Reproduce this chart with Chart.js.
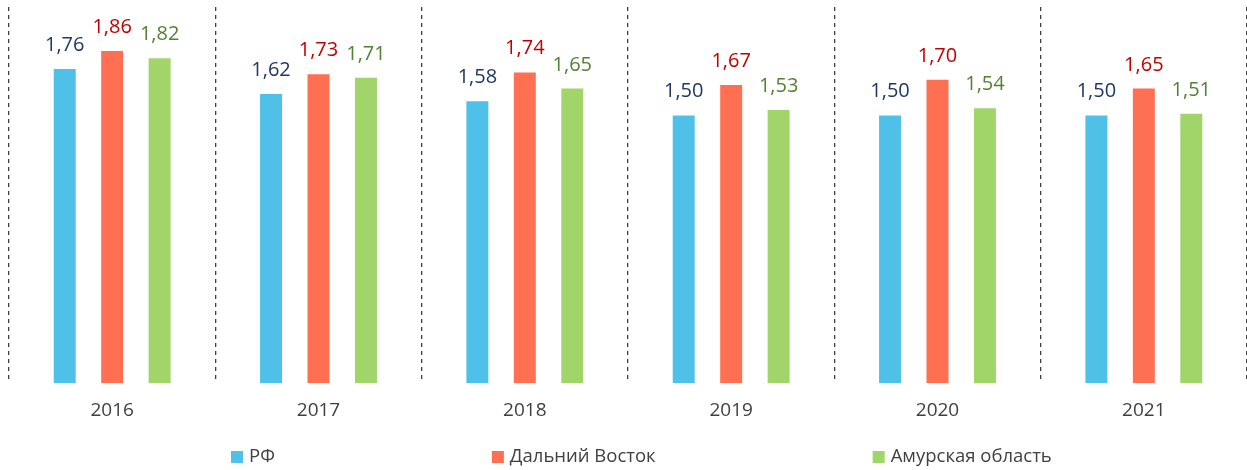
<!DOCTYPE html>
<html>
<head>
<meta charset="utf-8">
<script src="https://cdn.jsdelivr.net/npm/chart.js@4.4.0/dist/chart.umd.min.js"></script>
<style>
  html,body{margin:0;padding:0;background:#fff;}
  #wrap{width:1247px;height:470px;position:relative;}
</style>
</head>
<body>
<div id="wrap"><canvas id="chart"></canvas></div>
<script>
const years=['2016','2017','2018','2019','2020','2021'];
const rf=[1.76,1.62,1.58,1.50,1.50,1.50];
const dv=[1.86,1.73,1.74,1.67,1.70,1.65];
const amur=[1.82,1.71,1.65,1.53,1.54,1.51];
const names=['РФ','Дальний Восток','Амурская область'];
const barColors=['#4FC1E8','#FF7052','#A1D469'];
const labelColors=['#1F3864','#C00000','#538135'];

const FONT='"Open Sans", sans-serif';

const valueLabels={
  id:'valueLabels',
  afterDatasetsDraw(chart){
    const ctx=chart.ctx;
    ctx.save();
    ctx.font='20px '+FONT;
    ctx.textAlign='center';
    ctx.textBaseline='alphabetic';
    chart.data.datasets.forEach((ds,i)=>{
      const meta=chart.getDatasetMeta(i);
      ctx.fillStyle=labelColors[i];
      meta.data.forEach((bar,j)=>{
        ctx.fillText(ds.data[j].toFixed(2).replace('.',','),bar.x,bar.y-17);
      });
    });
    ctx.restore();
  }
};

// legend spread wide like the original
const wideLegend={
  id:'wideLegend',
  afterDraw(chart){
    const ctx=chart.ctx;
    ctx.save();
    ctx.font='18.5px '+FONT;
    ctx.textBaseline='middle';
    let x=231;
    const y=457;
    names.forEach((n,i)=>{
      ctx.fillStyle=barColors[i];
      ctx.fillRect(x,y-6,12,12);
      ctx.fillStyle='#404040';
      ctx.fillText(n,x+18,y);
      x+=18+ctx.measureText(n).width+217;
    });
    ctx.restore();
  }
};

new Chart(document.getElementById('chart'),{
  type:'bar',
  data:{
    labels:years,
    datasets:[rf,dv,amur].map((d,i)=>({
      label:names[i],
      data:d,
      backgroundColor:barColors[i],
      borderColor:'rgba(255,255,255,0.35)',
      borderWidth:1,
      categoryPercentage:0.69,
      barPercentage:0.505
    }))
  },
  options:{
    responsive:true,
    maintainAspectRatio:false,
    animation:false,
    layout:{padding:{left:9,right:0,top:7,bottom:32}},
    plugins:{legend:{display:false},tooltip:{enabled:false}},
    scales:{
      x:{
        offset:true,
        grid:{offset:true,color:'#404040',lineWidth:1.3,drawTicks:false},
        border:{display:false,dash:[4,4]},
        ticks:{color:'#404040',font:{family:FONT,size:19},padding:16}
      },
      y:{display:false,min:0,max:2.1}
    }
  },
  plugins:[valueLabels,wideLegend]
});
</script>
</body>
</html>
